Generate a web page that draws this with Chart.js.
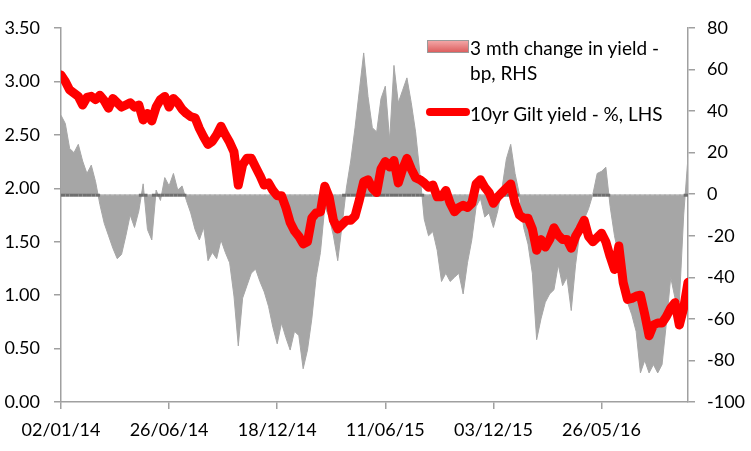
<!DOCTYPE html>
<html><head><meta charset="utf-8">
<script src="https://cdn.jsdelivr.net/npm/chart.js@4.4.1/dist/chart.umd.min.js"></script>
<style>
html,body{margin:0;padding:0;background:#fff;overflow:hidden;}
#wrap{position:relative;width:751px;height:451px;}
.lgt{position:absolute;font-family:Lato,"Open Sans",sans-serif;font-size:19px;line-height:25px;color:#000;white-space:nowrap;}
#sw1{position:absolute;left:427px;top:40px;width:40px;height:11px;background:linear-gradient(#f2a5a5,#dd5f5f);border:1px solid #9a9a9a;}
#sw2{position:absolute;left:426px;top:108px;width:44px;height:8px;background:#ff0000;border-radius:4px;}
</style></head><body>
<div id="wrap">
<canvas id="c" width="751" height="451"></canvas>
<div id="sw1"></div>
<div class="lgt" style="left:470px;top:35px;">3 mth change in yield -<br>bp, RHS</div>
<div id="sw2"></div>
<div class="lgt" style="left:470px;top:101px;">10yr Gilt yield - %, LHS</div>
</div>
<script>
const xTickLabels = ['02/01/14','26/06/14','18/12/14','11/06/15','03/12/15','26/05/16'];
const pointsPerTick = 25;
// weekly 10yr Gilt yield, % (LHS)
const giltYield = [
 3.06,3.00,2.92,2.89,2.86,2.78,2.85,2.86,2.83,2.87,
 2.82,2.75,2.84,2.80,2.76,2.78,2.80,2.76,2.78,2.64,
 2.70,2.63,2.76,2.83,2.86,2.76,2.84,2.80,2.74,2.70,
 2.67,2.66,2.56,2.48,2.41,2.44,2.50,2.58,2.50,2.43,
 2.34,2.03,2.22,2.28,2.28,2.20,2.12,2.03,2.05,1.98,
 1.93,1.93,1.82,1.68,1.60,1.55,1.48,1.50,1.72,1.77,
 1.78,2.02,1.92,1.70,1.62,1.66,1.70,1.70,1.74,1.89,
 2.06,2.08,2.00,1.96,2.18,2.25,2.20,2.26,2.05,2.18,
 2.28,2.18,2.10,2.08,2.05,2.01,2.03,1.92,1.92,1.98,
 1.86,1.78,1.82,1.84,1.82,1.86,2.04,2.08,2.01,1.96,
 1.86,1.92,1.96,2.00,2.04,1.86,1.75,1.72,1.72,1.62,
 1.42,1.52,1.45,1.52,1.63,1.56,1.52,1.52,1.44,1.55,
 1.62,1.70,1.55,1.50,1.54,1.58,1.50,1.36,1.24,1.46,
 1.12,0.96,0.97,0.99,1.00,0.82,0.62,0.72,0.74,0.74,
 0.80,0.88,0.93,0.72,0.88,1.12
];
// weekly 3 month change in yield, bp (RHS)
const change3m = [
 38,34,22,20,24,16,10,14,6,-5,
 -14,-20,-26,-31,-29,-20,-10,-16,-8,5,
 -17,-22,2,-3,8,4,10,2,4,-3,
 -9,-17,-22,-16,-32,-28,-31,-22,-28,-33,
 -49,-73,-50,-44,-38,-36,-42,-47,-54,-64,
 -72,-62,-69,-75,-66,-68,-84,-75,-60,-40,
 -28,-6,-11,-20,-32,-15,3,16,32,50,
 68,47,32,30,46,52,26,62,44,50,
 56,44,30,10,-12,-20,-18,-27,-42,-38,
 -42,-40,-38,-48,-33,-22,-6,-2,-11,-9,
 -16,-8,3,17,24,10,0,-16,-24,-38,
 -70,-60,-52,-48,-46,-34,-44,-40,-56,-34,
 -18,-12,-7,0,10,11,13,-6,-20,-30,
 -44,-52,-58,-66,-86,-80,-86,-82,-86,-82,
 -62,-40,-50,-52,-10,18
];

const axisColor = '#a0a0a0';
const tickFont = {family:'Lato', size:18};

// baseline at zero: dark under positive bars, light over negative bars
const zeroLine = {
  id:'zeroLine',
  afterDatasetDraw(chart, args){
    if (args.index !== 0) return;
    const c = chart.ctx, y = chart.scales.y1.getPixelForValue(0), a = chart.chartArea;
    const pts = chart.getDatasetMeta(0).data;
    c.save();
    c.strokeStyle = '#cfcfcf'; c.lineWidth = 1;
    c.setLineDash([3,2]);
    c.beginPath(); c.moveTo(a.left, y + 0.5); c.lineTo(a.right, y + 0.5); c.stroke();
    c.setLineDash([]);
    c.strokeStyle = '#6f6f6f'; c.lineWidth = 3;
    for (let i = 0; i < pts.length - 1; i++) {
      if (change3m[i] > 0 || change3m[i+1] > 0) {
        c.beginPath(); c.moveTo(pts[i].x, y + 1); c.lineTo(pts[i+1].x, y + 1); c.stroke();
      }
    }
    c.restore();
  }
};

new Chart(document.getElementById('c'), {
  type:'line',
  data:{datasets:[
    {label:'3 mth change in yield - bp, RHS', data:change3m.map((v,i)=>({x:i,y:v})), yAxisID:'y1',
     borderColor:'#a6a6a6', borderWidth:1, backgroundColor:'#a6a6a6', fill:'origin', pointRadius:0, tension:0, order:2},
    {label:'10yr Gilt yield - %, LHS', data:giltYield.map((v,i)=>({x:i,y:v})), yAxisID:'y',
     borderColor:'#ff0000', borderWidth:9, borderCapStyle:'round', borderJoinStyle:'round', pointRadius:0, fill:false, tension:0, order:1}
  ]},
  options:{
    responsive:false, animation:false, devicePixelRatio:1,
    layout:{padding:{top:28, left:0, right:0, bottom:0}},
    plugins:{legend:{display:false}, tooltip:{enabled:false}},
    scales:{
      x:{type:'linear', min:0, max:giltYield.length-1,
        afterFit:s=>{s.height=49;},
        ticks:{stepSize:pointsPerTick, includeBounds:false, autoSkip:false, maxRotation:0, padding:10, color:'#000', font:tickFont,
          callback:v=>xTickLabels[v/pointsPerTick]},
        grid:{drawOnChartArea:false, tickLength:7, color:axisColor, lineWidth:1.5},
        border:{color:axisColor, width:1.5}},
      y:{position:'left', min:0, max:3.5,
        afterFit:s=>{s.width=61;},
        ticks:{stepSize:0.5, padding:14, color:'#000', font:tickFont, callback:v=>v.toFixed(2)},
        grid:{drawOnChartArea:false, tickLength:7, color:axisColor, lineWidth:1.5},
        border:{color:axisColor, width:1.5}},
      y1:{position:'right', min:-100, max:80,
        afterFit:s=>{s.width=63;},
        ticks:{stepSize:20, padding:12, color:'#000', font:tickFont},
        grid:{drawOnChartArea:false, tickLength:7, color:axisColor, lineWidth:1.5},
        border:{color:axisColor, width:1.5}}
    }
  },
  plugins:[zeroLine]
});
</script>
</body></html>
